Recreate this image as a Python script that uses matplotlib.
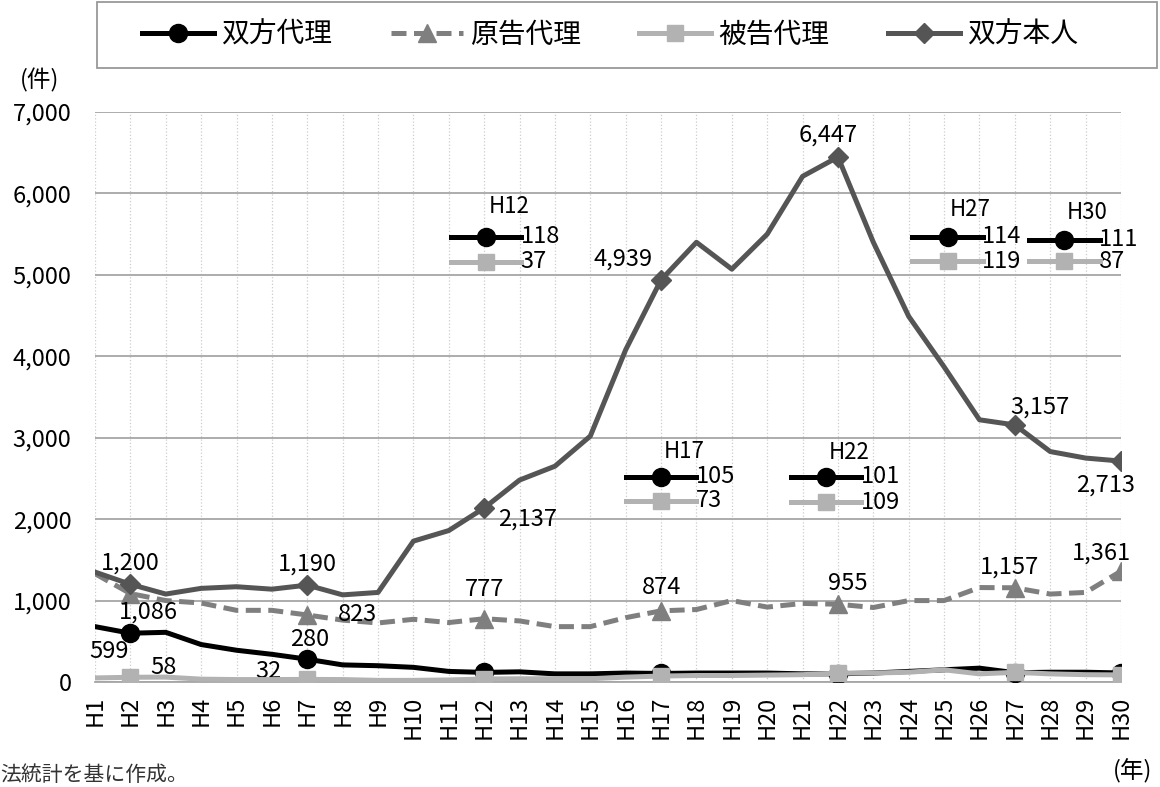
import matplotlib
matplotlib.use("Agg")
import matplotlib.pyplot as plt
from matplotlib.patches import Rectangle
from matplotlib.ticker import FuncFormatter, MultipleLocator

plt.rcParams['font.family'] = ['Noto Sans CJK JP', 'DejaVu Sans']

# data (件)
years = ["H%d" % i for i in range(1, 31)]
both_agent = [680, 599, 610, 460, 390, 340, 280, 210, 200, 180,
              130, 118, 125, 100, 100, 110, 105, 110, 110, 110,
              100, 101, 110, 130, 150, 170, 114, 120, 120, 111]
plaintiff_agent = [1330, 1086, 1000, 970, 880, 880, 823, 760, 725, 770,
                   730, 777, 750, 680, 680, 790, 874, 890, 1000, 920,
                   965, 955, 915, 1000, 1000, 1160, 1157, 1080, 1100, 1361]
defendant_agent = [50, 58, 60, 35, 30, 30, 32, 30, 20, 20,
                   25, 37, 40, 40, 40, 60, 73, 80, 80, 85,
                   90, 109, 110, 120, 150, 100, 119, 100, 90, 87]
both_self = [1350, 1200, 1080, 1150, 1170, 1140, 1190, 1070, 1100, 1730,
             1860, 2137, 2480, 2650, 3020, 4080, 4939, 5400, 5070, 5500,
             6210, 6447, 5400, 4490, 3870, 3220, 3157, 2830, 2750, 2713]

names = ["双方代理", "原告代理", "被告代理", "双方本人"]

C_BOTH = "black"
C_PLA = "#7f7f7f"
C_DEF = "#b2b2b2"
C_SELF = "#555555"
LW = 3.6
FS = 17

fig = plt.figure(figsize=(11.6, 7.87), dpi=100)
ax = fig.add_axes([95 / 1160, 1 - 682 / 787, 1026 / 1160, 570 / 787])

x = list(range(len(years)))
mk = [1, 6, 11, 16, 21, 26, 29]  # labelled points

ax.plot(x, both_agent, color=C_BOTH, lw=LW, marker="o", ms=13,
        markevery=mk, label=names[0], zorder=4)
ax.plot(x, plaintiff_agent, color=C_PLA, lw=LW, ls=(0, (3, 1.5)), marker="^",
        ms=13, markevery=mk, label=names[1], zorder=3)
ax.plot(x, defendant_agent, color=C_DEF, lw=LW, marker="s", ms=12,
        markevery=mk, label=names[2], zorder=5)
ax.plot(x, both_self, color=C_SELF, lw=LW, marker="D", ms=10,
        markevery=mk, label=names[3], zorder=3)

ax.set_xlim(0, 29)
ax.set_ylim(0, 7000)
ax.yaxis.set_major_locator(MultipleLocator(1000))
ax.yaxis.set_major_formatter(FuncFormatter(lambda v, p: f"{int(v):,}"))
ax.set_xticks(x)
ax.set_xticklabels(years, rotation=90, fontsize=FS)
ax.tick_params(axis="y", labelsize=FS, length=0, pad=17)
ax.tick_params(axis="x", length=0, pad=10)

ax.grid(axis="y", color="#a6a6a6", lw=1.3)
ax.grid(axis="x", color="#cccccc", lw=0.9, ls=":")
ax.set_axisbelow(True)
for s in ["top", "right", "left"]:
    ax.spines[s].set_visible(False)
ax.spines["bottom"].set_color("#a6a6a6")
ax.spines["bottom"].set_linewidth(1.3)


def lab(i, series, dx, dy, ha="center"):
    ax.annotate(f"{series[i]:,}", (i, series[i]), xytext=(dx, dy),
                textcoords="offset points", ha=ha, va="center", fontsize=FS)


# 双方本人
lab(1, both_self, 0, 15)
lab(6, both_self, 0, 15)
lab(11, both_self, 10, -8, ha="left")
lab(16, both_self, -6, 15, ha="right")
lab(21, both_self, -7, 16)
lab(26, both_self, 18, 13)
lab(29, both_self, -11, -17)
# 原告代理
lab(1, plaintiff_agent, 13, -13)
lab(6, plaintiff_agent, 36, 0)
lab(11, plaintiff_agent, 0, 21)
lab(16, plaintiff_agent, 0, 17)
lab(21, plaintiff_agent, 7, 15)
lab(26, plaintiff_agent, -4, 15)
lab(29, plaintiff_agent, -14, 13)
# 双方代理
lab(1, both_agent, -15, -13)
lab(6, both_agent, 2, 14)
# 被告代理
lab(1, defendant_agent, 24, 7)
lab(6, defendant_agent, -28, 6)

# small keys for overlapping low values: index -> (x centre, y black, y gray, y title)
insets = {
    11: (11.05, 5470, 5160, 5840),
    16: (16.0, 2520, 2225, 2830),
    21: (20.66, 2520, 2210, 2820),
    26: (24.1, 5470, 5170, 5800),
    29: (27.4, 5430, 5170, 5760),
}
for i, (xc, yb, yg, yt) in insets.items():
    ax.plot([xc - 1, xc + 1], [yb, yb], color=C_BOTH, lw=LW, zorder=6)
    ax.plot([xc], [yb], color=C_BOTH, marker="o", ms=13, zorder=7)
    ax.plot([xc - 1, xc + 1], [yg, yg], color=C_DEF, lw=LW, zorder=6)
    ax.plot([xc], [yg], color=C_DEF, marker="s", ms=12, zorder=7)
    ax.text(xc + 0.98, yb, f"{both_agent[i]:,}", fontsize=FS, va="center", ha="left")
    ax.text(xc + 0.98, yg, f"{defendant_agent[i]:,}", fontsize=FS, va="center", ha="left")
    ax.text(xc + 0.65, yt, years[i], fontsize=16, va="center", ha="center")

# legend box across the top
fig.patches.append(Rectangle((97 / 1160, 1 - 68 / 787), 1060 / 1160, 66 / 787,
                             transform=fig.transFigure, fill=False,
                             edgecolor="#999999", lw=1.3))
fig.legend(loc="center", ncol=4, bbox_to_anchor=(610 / 1160, 1 - 35 / 787),
           fontsize=20, frameon=False, handlelength=2.6, handletextpad=0.25,
           columnspacing=2.1, borderaxespad=0, borderpad=0)

fig.text(40 / 1160, 1 - 80 / 787, "(件)", fontsize=FS, ha="center", va="center")
fig.text(1133 / 1160, 1 - 771 / 787, "(年)", fontsize=FS, ha="center", va="center")
fig.text(0, 1 - 775 / 787, "法統計を基に作成。", fontsize=15, ha="left", va="center",
         color="#333333")

fig.savefig("out.png", dpi=100)
